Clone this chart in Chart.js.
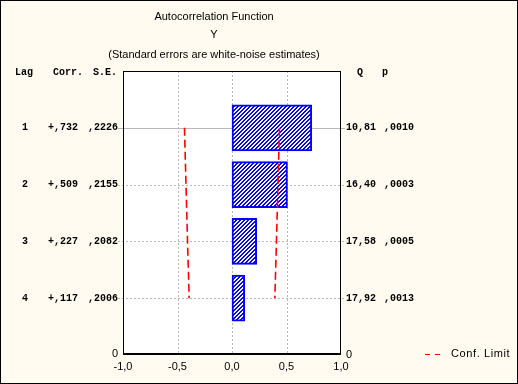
<!DOCTYPE html>
<html>
<head>
<meta charset="utf-8">
<script src="https://cdn.jsdelivr.net/npm/chart.js@4/dist/chart.umd.min.js"></script>
<style>
  html, body { margin: 0; padding: 0; background: #FFFBF0; }
  canvas { display: block; }
</style>
</head>
<body>
<canvas id="c" width="518" height="384"></canvas>
<script>
// ---- data ----
const lags = [1, 2, 3, 4];
const corr = [0.732, 0.509, 0.227, 0.117];
const stdErr = [0.2226, 0.2155, 0.2082, 0.2006];
const qStat = [10.81, 16.40, 17.58, 17.92];
const pVal = [0.0010, 0.0003, 0.0005, 0.0013];
const confLimit = [0.436, 0.422, 0.408, 0.393];
const xTicks = [-1, -0.5, 0, 0.5, 1];
const titleLines = ['Autocorrelation Function', 'Y', '(Standard errors are white-noise estimates)'];
const legendLabel = 'Conf. Limit';

// ---- helpers ----
const fmtCorr = v => (v >= 0 ? '+' : '-') + Math.abs(v).toFixed(3).replace(/^0\./, ',');
const fmtFrac = (v, d) => v.toFixed(d).replace(/^0\./, ',');
const fmtQ = v => v.toFixed(2).replace('.', ',');
const fmtTick = v => v.toFixed(1).replace('.', ',');

function hatchPattern() {
  const c = document.createElement('canvas');
  c.width = 4; c.height = 4;
  const g = c.getContext('2d');
  g.fillStyle = '#FFFFFF';
  g.fillRect(0, 0, 4, 4);
  g.fillStyle = '#0000FF';
  for (let i = 0; i < 4; i++) {
    g.fillRect(i, 3 - i, 1, 1);
    g.fillRect((i + 1) % 4, 3 - i, 1, 1);
  }
  return document.getElementById('c').getContext('2d').createPattern(c, 'repeat');
}

const CREAM = '#FFFBF0';
const MONO = 'bold 10px "Liberation Mono", "DejaVu Sans Mono", monospace';
const SANS = '11px "Liberation Sans", Arial, sans-serif';

const decor = {
  id: 'decor',
  beforeDraw(chart) {
    const ctx = chart.ctx, a = chart.chartArea;
    const xs = chart.scales.x, ys = chart.scales.y;
    ctx.save();
    ctx.fillStyle = CREAM;
    ctx.fillRect(0, 0, chart.width, chart.height);
    ctx.fillStyle = '#FFFFFF';
    ctx.fillRect(a.left, a.top, a.right - a.left, a.bottom - a.top);
    // vertical grid
    ctx.strokeStyle = '#B8B8B8';
    ctx.lineWidth = 1;
    ctx.setLineDash([2, 2]);
    xTicks.forEach(t => {
      if (t <= -1 || t >= 1) return;
      const x = Math.round(xs.getPixelForValue(t)) + 0.5;
      ctx.beginPath(); ctx.moveTo(x, a.top); ctx.lineTo(x, a.bottom); ctx.stroke();
    });
    // horizontal grid at each lag (with short ticks outside)
    lags.forEach((l, i) => {
      const y = Math.round(ys.getPixelForValue(l)) + 0.5;
      ctx.setLineDash(i === 0 ? [] : [2, 2]);
      ctx.beginPath(); ctx.moveTo(a.left - 5, y); ctx.lineTo(a.right + 4, y); ctx.stroke();
    });
    ctx.restore();
  },
  afterDraw(chart) {
    const ctx = chart.ctx, a = chart.chartArea;
    const xs = chart.scales.x, ys = chart.scales.y;
    ctx.save();
    // plot frame
    ctx.strokeStyle = '#000000';
    ctx.lineWidth = 1;
    ctx.setLineDash([]);
    ctx.strokeRect(Math.round(a.left) + 0.5, Math.round(a.top) + 0.5,
                   Math.round(a.right - a.left) - 1, Math.round(a.bottom - a.top) - 1);
    ctx.lineWidth = 2;
    ctx.beginPath();
    ctx.moveTo(a.left, a.bottom - 1); ctx.lineTo(a.right, a.bottom - 1); ctx.stroke();
    // outer frame
    ctx.lineWidth = 1;
    ctx.strokeRect(0.5, 0.5, chart.width - 1, chart.height - 1);

    // title
    ctx.fillStyle = '#000000';
    ctx.font = SANS;
    ctx.textAlign = 'center';
    ctx.textBaseline = 'middle';
    const cx = 214;
    ctx.fillText(titleLines[0], cx, 17);
    ctx.fillText(titleLines[1], cx, 35);
    ctx.fillText(titleLines[2], cx, 55);

    // column headers
    ctx.font = MONO;
    ctx.textAlign = 'left';
    const hy = 72;
    ctx.fillText('Lag', 15, hy);
    ctx.fillText('Corr.', 53, hy);
    ctx.fillText('S.E.', 93, hy);
    ctx.fillText('Q', 357, hy);
    ctx.fillText('p', 382, hy);

    // rows
    lags.forEach((l, i) => {
      const y = ys.getPixelForValue(l);
      ctx.textAlign = 'center';
      ctx.fillText(String(l), 25, y);
      ctx.textAlign = 'left';
      ctx.fillText(fmtCorr(corr[i]), 48, y);
      ctx.fillText(fmtFrac(stdErr[i], 4), 88, y);
      ctx.fillText(fmtQ(qStat[i]), 346, y);
      ctx.fillText(fmtFrac(pVal[i], 4), 384, y);
    });

    // bottom zero labels
    ctx.font = SANS;
    ctx.textAlign = 'center';
    ctx.fillText('0', 115, a.bottom - 1);
    ctx.fillText('0', 349, a.bottom);

    // x tick labels
    xTicks.forEach(t => {
      ctx.fillText(fmtTick(t), xs.getPixelForValue(t), 367);
    });

    // legend
    ctx.strokeStyle = '#FF0000';
    ctx.lineWidth = 1;
    ctx.beginPath();
    ctx.moveTo(425, 354.5); ctx.lineTo(430, 354.5);
    ctx.moveTo(435, 354.5); ctx.lineTo(440, 354.5);
    ctx.stroke();
    ctx.fillStyle = '#000000';
    ctx.textAlign = 'left';
    ctx.letterSpacing = '0.6px';
    ctx.fillText(legendLabel, 451, 354);
    ctx.restore();
  }
};

const barData = lags.map((l, i) => ({ x: corr[i], y: l }));
const upperData = lags.map((l, i) => ({ x: confLimit[i], y: l }));
const lowerData = lags.map((l, i) => ({ x: -confLimit[i], y: l }));

new Chart(document.getElementById('c'), {
  type: 'bar',
  data: {
    datasets: [
      {
        type: 'bar',
        indexAxis: 'y',
        data: barData,
        backgroundColor: hatchPattern(),
        borderColor: '#0000FF',
        borderWidth: 2,
        borderSkipped: false,
        barThickness: 46,
        order: 2
      },
      {
        type: 'line',
        indexAxis: 'y',
        data: upperData,
        borderColor: '#FF0000',
        borderWidth: 1.6,
        borderDash: [8, 4],
        pointRadius: 0,
        fill: false,
        tension: 0,
        order: 1
      },
      {
        type: 'line',
        indexAxis: 'y',
        data: lowerData,
        borderColor: '#FF0000',
        borderWidth: 1.6,
        borderDash: [8, 4],
        pointRadius: 0,
        fill: false,
        tension: 0,
        order: 1
      }
    ]
  },
  options: {
    indexAxis: 'y',
    responsive: false,
    animation: false,
    devicePixelRatio: 1,
    layout: { padding: { left: 123, right: 177, top: 71, bottom: 29 } },
    plugins: { legend: { display: false }, tooltip: { enabled: false }, title: { display: false } },
    scales: {
      x: { type: 'linear', min: -1, max: 1, display: false, offset: false },
      y: { type: 'linear', min: 0, max: 5, reverse: true, display: false, offset: false }
    }
  },
  plugins: [decor]
});
</script>
</body>
</html>
